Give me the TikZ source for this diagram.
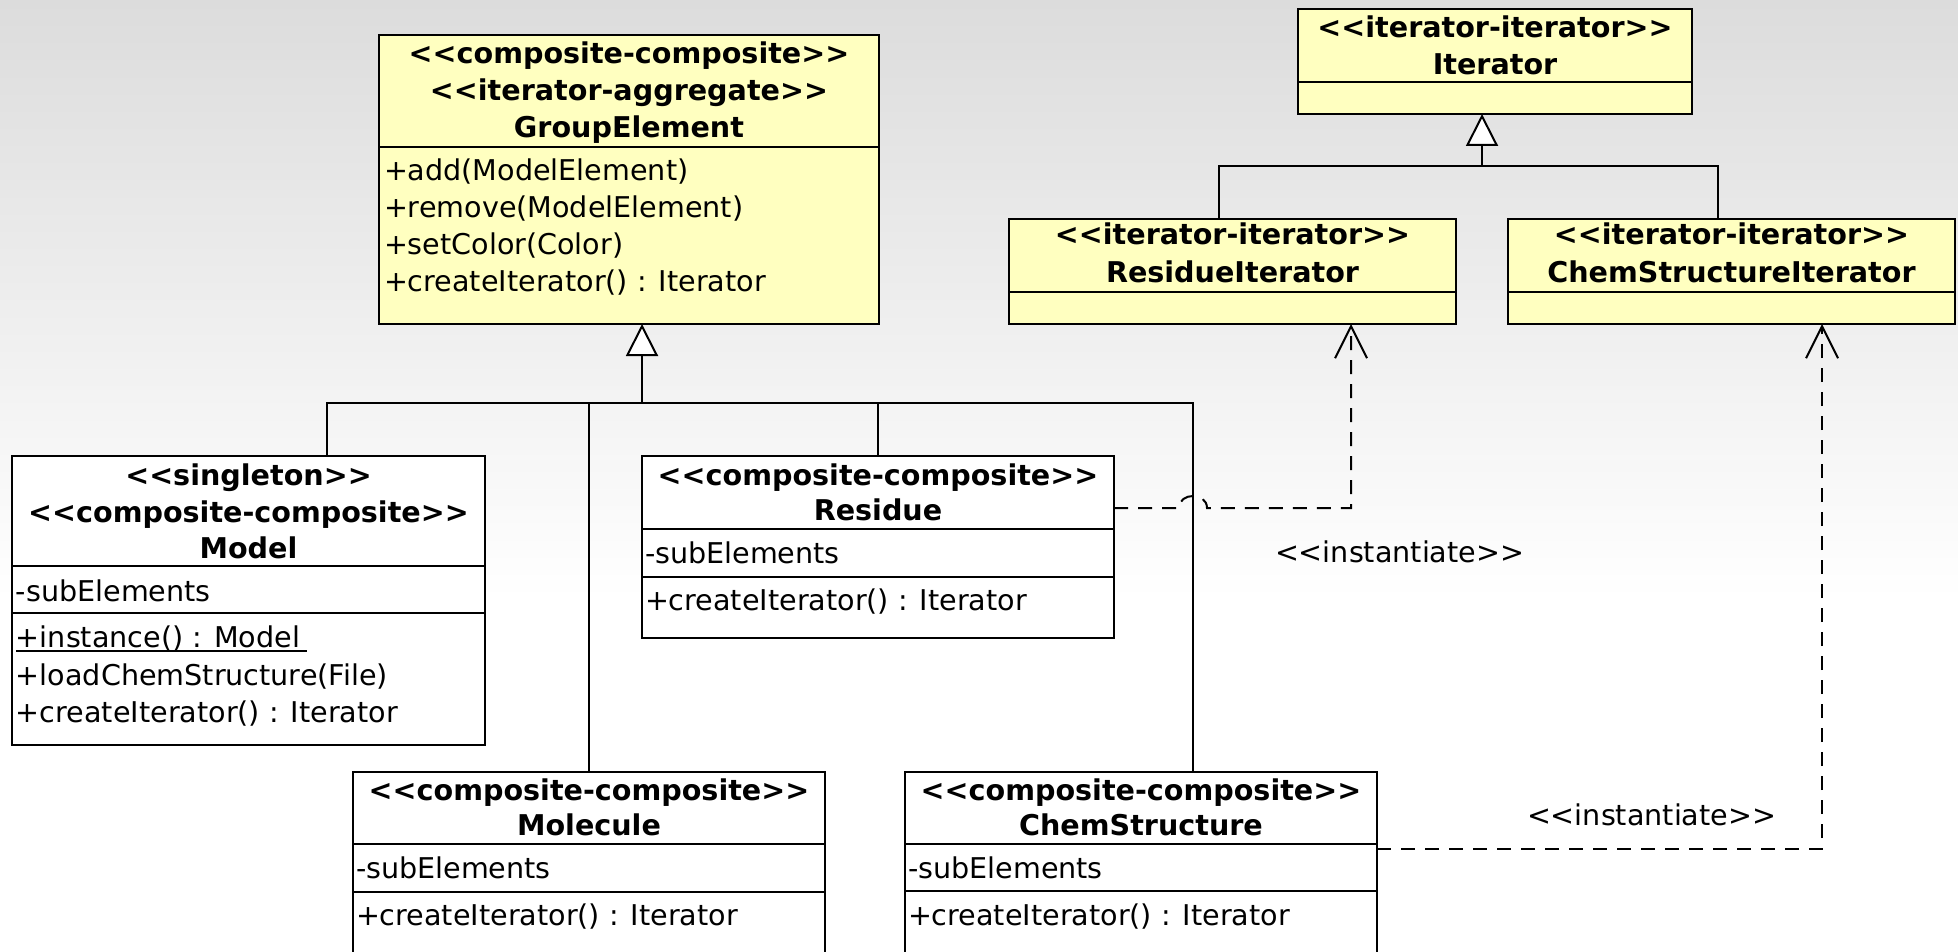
\documentclass[tikz,border=0pt]{standalone}
\usepackage{fontspec}
\setmainfont{DejaVu Sans}[Ligatures=TeXOff]
\usetikzlibrary{arrows.meta}
\definecolor{classfill}{HTML}{FFFFC0}
\definecolor{bgtop}{HTML}{DCDCDC}

\begin{document}
\begin{tikzpicture}[x=0.5pt,y=-0.5pt,
  txt/.style={font=\fontsize{14.3pt}{17pt}\selectfont, inner sep=0pt, outer sep=0pt},
  classbox/.style={draw=black, line width=1.3pt, anchor=north west, inner sep=0pt, outer sep=0pt},
  yellowbox/.style={classbox, fill=classfill},
  whitebox/.style={classbox, fill=white},
  stereo/.style={txt, anchor=base, font=\fontsize{14.3pt}{17pt}\selectfont\bfseries},
  member/.style={txt, anchor=base west},
  sepline/.style={line width=1.3pt},
  link/.style={line width=1pt},
  gen/.style={link, -{Triangle[length=16pt, width=16pt, fill=white]}},
  dep/.style={link, dash pattern=on 7pt off 5pt, -{Straight Barb[length=16pt, width=16pt]}},
]
\useasboundingbox (0,0) rectangle (1958,952);
\clip (0,0) rectangle (1958,952);

% background
\shade[top color=bgtop, bottom color=white] (0,0) rectangle (1958,600);
\fill[white] (0,600) rectangle (1958,952);

% ---------- GroupElement ----------
\node[yellowbox, minimum width=250pt, minimum height=144.5pt] (ge) at (379,35) {};
\draw[sepline] (379,147) -- (879,147);
\node[stereo] (ge1) at (629,64) {<<composite-composite>>};
\node[stereo] (ge2) at (629,101) {<<iterator-aggregate>>};
\node[stereo] (ge3) at (629,138) {GroupElement};
\node[member] (gem1) at (384,181) {+add(ModelElement)};
\node[member] (gem2) at (384,218) {+remove(ModelElement)};
\node[member] (gem3) at (384,255) {+setColor(Color)};
\node[member] (gem4) at (384,292) {+createIterator() : Iterator};

% ---------- Iterator ----------
\node[yellowbox, minimum width=197pt, minimum height=52.5pt] (it) at (1298,9) {};
\draw[sepline] (1298,82) -- (1692,82);
\node[stereo] (it1) at (1495,38) {<<iterator-iterator>>};
\node[stereo] (it2) at (1495,75) {Iterator};

% ---------- ResidueIterator ----------
\node[yellowbox, minimum width=223.5pt, minimum height=52.5pt] (rit) at (1009,219) {};
\draw[sepline] (1009,292) -- (1456,292);
\node[stereo] (rit1) at (1232.5,245) {<<iterator-iterator>>};
\node[stereo] (rit2) at (1232.5,283) {ResidueIterator};

% ---------- ChemStructureIterator ----------
\node[yellowbox, minimum width=223.5pt, minimum height=52.5pt] (csit) at (1508,219) {};
\draw[sepline] (1508,292) -- (1955,292);
\node[stereo] (csit1) at (1731.5,245) {<<iterator-iterator>>};
\node[stereo] (csit2) at (1731.5,283) {ChemStructureIterator};

% ---------- Model ----------
\node[whitebox, minimum width=236.5pt, minimum height=144.5pt] (model) at (12,456) {};
\draw[sepline] (12,566) -- (485,566);
\draw[sepline] (12,613) -- (485,613);
\node[stereo] (mo1) at (248.5,485) {<<singleton>>};
\node[stereo] (mo2) at (248.5,522) {<<composite-composite>>};
\node[stereo] (mo3) at (248.5,558) {Model};
\node[member] (moa) at (16,601) {-subElements};
\node[member] (inst) at (16,647) {+instance() : Model};
\draw[link] ([yshift=-2pt]inst.base west) -- ++(291,0);
\node[member] (mom2) at (16,685) {+loadChemStructure(File)};
\node[member] (mom3) at (16,722) {+createIterator() : Iterator};

% ---------- Residue ----------
\node[whitebox, minimum width=236pt, minimum height=91pt] (res) at (642,456) {};
\draw[sepline] (642,529) -- (1114,529);
\draw[sepline] (642,577) -- (1114,577);
\node[stereo] (re1) at (878,485) {<<composite-composite>>};
\node[stereo] (re2) at (878,520) {Residue};
\node[member] (rea) at (645,563) {-subElements};
\node[member] (rem) at (645,610) {+createIterator() : Iterator};

% ---------- Molecule ----------
\node[whitebox, minimum width=236pt, minimum height=120pt] (mol) at (353,772) {};
\draw[sepline] (353,844) -- (825,844);
\draw[sepline] (353,892) -- (825,892);
\node[stereo] (mol1) at (589,800) {<<composite-composite>>};
\node[stereo] (mol2) at (589,835) {Molecule};
\node[member] (mola) at (356,878) {-subElements};
\node[member] (molm) at (356,925) {+createIterator() : Iterator};

% ---------- ChemStructure ----------
\node[whitebox, minimum width=236pt, minimum height=120pt] (cs) at (905,772) {};
\draw[sepline] (905,844) -- (1377,844);
\draw[sepline] (905,891) -- (1377,891);
\node[stereo] (cs1) at (1141,800) {<<composite-composite>>};
\node[stereo] (cs2) at (1141,835) {ChemStructure};
\node[member] (csa) at (908,878) {-subElements};
\node[member] (csm) at (908,925) {+createIterator() : Iterator};

% ---------- generalisation to GroupElement ----------
\coordinate (gl) at (327,403);
\coordinate (gr) at (1193,403);
\coordinate (gj) at (642,403);
\draw[link] (gl |- model.north) -- (gl) -- (gr) -- (gr |- cs.north);
\draw[link] (mol.north) -- (mol.north |- gl);
\draw[link] (res.north) -- (res.north |- gl);
\draw[gen] (gj) -- (gj |- ge.south);

% ---------- generalisation to Iterator ----------
\coordinate (il) at (1219,166);
\coordinate (ir) at (1718,166);
\coordinate (ij) at (1482,166);
\draw[link] (il |- rit.north) -- (il) -- (ir) -- (ir |- csit.north);
\draw[gen] (ij) -- (ij |- it.south);

% ---------- instantiate dependencies ----------
\coordinate (da) at (1351,508);
\coordinate (hopL) at (1179,508);
\coordinate (hopR) at (1207,508);
\draw[dep] (res.east |- da) -- (hopL) .. controls +(0,-16) and +(0,-16) .. (hopR) -- (da) -- (da |- rit.south);
\node[member] (lab1) at (1275,562) {<<instantiate>>};

\coordinate (db) at (1822,849);
\draw[dep] (cs.east |- db) -- (db) -- (db |- csit.south);
\node[member] (lab2) at (1527,825) {<<instantiate>>};
\end{tikzpicture}
\end{document}
